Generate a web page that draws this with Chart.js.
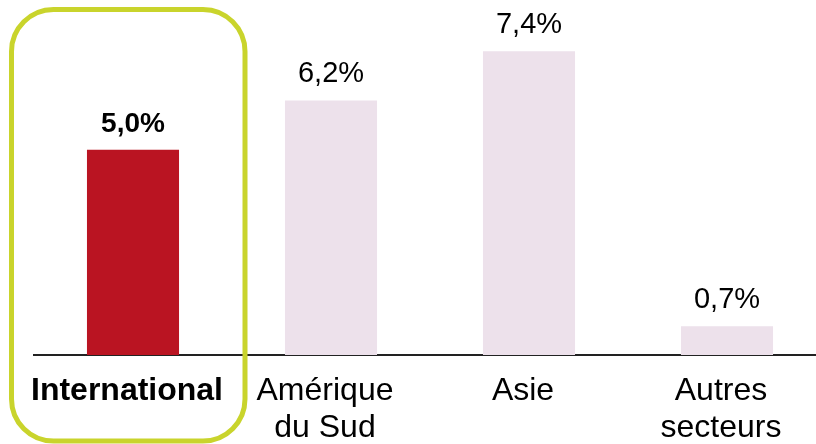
<!DOCTYPE html>
<html>
<head>
<meta charset="utf-8">
<script src="https://cdn.jsdelivr.net/npm/chart.js@4/dist/chart.umd.min.js"></script>
<style>
  html, body { margin: 0; padding: 0; background: #fff; overflow: hidden; }
  #wrap { position: relative; width: 826px; height: 466px; }
</style>
</head>
<body>
<div id="wrap"><canvas id="chart" width="826" height="466"></canvas></div>
<script>
// Growth by region, in percent
const categories = [["International"], ["Amérique", "du Sud"], ["Asie"], ["Autres", "secteurs"]];
const growth = [5.0, 6.2, 7.4, 0.7];
const valueLabels = ["5,0%", "6,2%", "7,4%", "0,7%"];
const barColors = ["#ba1422", "#ede1eb", "#ede1eb", "#ede1eb"];

const FONT = "'Liberation Sans', Arial, sans-serif";

// Percent labels above each bar
const valueLabelPlugin = {
  id: "valueLabels",
  afterDatasetsDraw(chart) {
    const ctx = chart.ctx;
    const meta = chart.getDatasetMeta(0);
    ctx.save();
    ctx.textAlign = "center";
    ctx.textBaseline = "alphabetic";
    ctx.fillStyle = "#000";
    meta.data.forEach((bar, i) => {
      ctx.font = (i === 0 ? "bold 28px " : "29px ") + FONT;
      ctx.fillText(valueLabels[i], bar.x, bar.y - 18);
    });
    ctx.restore();
  }
};

// Rounded frame around the highlighted first category
const highlightPlugin = {
  id: "highlight",
  afterDraw(chart) {
    const ctx = chart.ctx;
    const xs = chart.scales.x;
    const cx = xs.getPixelForValue(0);
    const x = cx - 121.5, w = 233.5;
    const y = 9.5, h = 431.5, r = 42;
    ctx.save();
    ctx.strokeStyle = "#c9d42c";
    ctx.lineWidth = 5;
    ctx.beginPath();
    ctx.roundRect(x, y, w, h, r);
    ctx.stroke();
    ctx.restore();
  }
};

new Chart(document.getElementById("chart"), {
  type: "bar",
  data: {
    labels: categories,
    datasets: [{
      data: growth,
      backgroundColor: barColors,
      borderWidth: 0,
      barPercentage: 0.465,
      categoryPercentage: 1.0
    }]
  },
  options: {
    responsive: false,
    animation: false,
    layout: { padding: { top: 6, left: 34, right: 0, bottom: 2 } },
    plugins: { legend: { display: false }, tooltip: { enabled: false } },
    scales: {
      x: {
        grid: { display: false, drawTicks: false },
        border: { display: true, color: "#222", width: 2 },
        ticks: {
          color: "#000",
          padding: 17,
          labelOffset: -6,
          maxRotation: 0,
          autoSkip: false,
          font: (c) => ({ family: FONT, size: 32, weight: c.index === 0 ? "bold" : "normal", lineHeight: 1.17 })
        }
      },
      y: {
        display: false,
        min: 0,
        max: 8.5
      }
    }
  },
  plugins: [valueLabelPlugin, highlightPlugin]
});
</script>
</body>
</html>
